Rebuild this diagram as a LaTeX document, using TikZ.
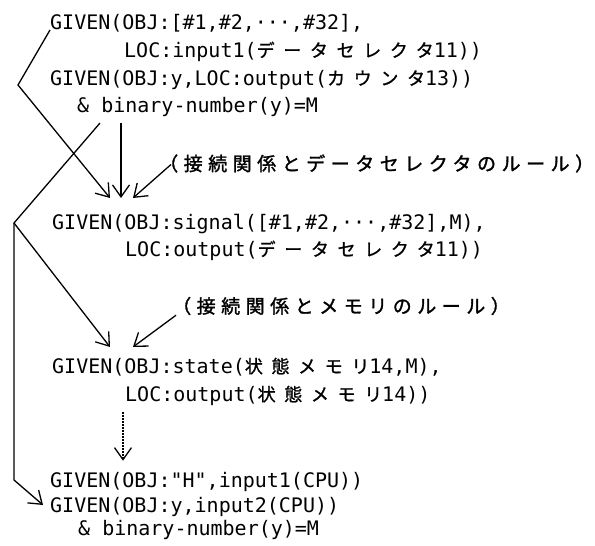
\documentclass[tikz,border=0pt]{standalone}
\usepackage{fontspec}
\usetikzlibrary{arrows.meta}
\newfontfamily\codefam{DejaVu Sans Mono}
\newfontfamily\jpfam[LetterSpace=48,FakeBold=1]{Noto Sans CJK JP}
\newfontfamily\labfam[LetterSpace=29,FakeBold=1.5]{Noto Sans CJK JP}
\newcommand\codefnt{\codefam\fontsize{20}{24}\selectfont}
\newcommand\labfnt{\labfam\fontsize{19}{23}\selectfont}
\newcommand\jj[1]{{\jpfam\fontsize{18}{22}\selectfont #1}}
\begin{document}
\begin{tikzpicture}[x=1pt,y=-1pt,
  code/.style={inner sep=0pt, anchor=base west, font=\codefnt},
  lab/.style={inner sep=0pt, anchor=west, font=\labfnt},
  ln/.style={line width=1.3pt, line join=miter},
  arr/.style={ln, -{Straight Barb[length=12pt,width=17pt,line width=1.3pt]}},
  dotarr/.style={line width=1.3pt, dash pattern=on 1.5pt off 1.5pt, -{Straight Barb[length=12pt,width=17pt,line width=1.3pt,sep]}}]
\useasboundingbox (0,0) rectangle (595,546);
% text lines
\node[code] (l1) at (50,30) {GIVEN(OBJ:[\#1,\#2,···,\#32],};
\node[code] (l2) at (124,57) {LOC:input1(\jj{データセレクタ}11))};
\node[code] (l3) at (50,85) {GIVEN(OBJ:y,LOC:output(\jj{カウンタ}13))};
\node[code] (l4) at (77,112) {\&~binary-number(y)=M};
\node[lab] (lab1) at (159,163.5) {（接続関係とデータセレクタのルール）\kern-16pt};
\node[code] (l5) at (52,229) {GIVEN(OBJ:signal([\#1,\#2,···,\#32],M),};
\node[code] (l6) at (125,256) {LOC:output(\jj{データセレクタ}11))};
\node[lab] (lab2) at (172,306) {（接続関係とメモリのルール）\kern-16pt};
\node[code] (l7) at (52,373) {GIVEN(OBJ:state(\jj{状態メモリ}14,M),};
\node[code] (l8) at (125,401) {LOC:output(\jj{状態メモリ}14))};
\node[code] (l9) at (50,487) {GIVEN(OBJ:"H",input1(CPU))};
\node[code] (l10) at (50,512) {GIVEN(OBJ:y,input2(CPU))};
\node[code] (l11) at (78,535) {\&~binary-number(y)=M};
% coordinates
\coordinate (ac) at (18,85);
\coordinate (atip) at (110,198);
\coordinate (vtop) at (121,123);
\coordinate (vtip) at (121,198);
\coordinate (l1tip) at (133,198);
\coordinate (btop) at (100,123);
\coordinate (bc) at (14,223);
\coordinate (btip) at (110,347);
\coordinate (bbot) at (14,480);
\coordinate (bend) at (43,505);
\coordinate (l2tip) at (133,347);
\coordinate (dtop) at (123,412);
\coordinate (dtip) at (123,462);
% connectors
\draw[arr] ([xshift=12pt,yshift=-1pt]lab1.west) -- (l1tip);
\draw[arr] (l1.base west) -- (ac) -- (atip);
\draw[arr] (vtop) -- (vtip);
\draw[arr] (btop) -- (bc) -- (btip);
\draw[arr] (bc) -- (bbot) -- (bend);
\draw[arr] ([xshift=4pt]lab2.south west) -- (l2tip);
\draw[dotarr] (dtop) -- (dtip);
\end{tikzpicture}
\end{document}
